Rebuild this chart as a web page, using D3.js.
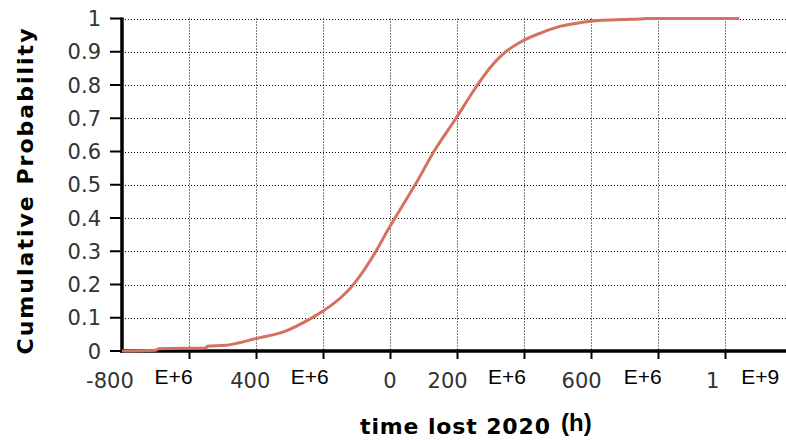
<!DOCTYPE html>
<html>
<head>
<meta charset="utf-8">
<script src="https://cdn.jsdelivr.net/npm/d3@7"></script>
<style>
    body { margin: 0; background: #fff; }
    svg { display: block; }
</style>
</head>
<body>
<div id="chart"></div>
<script>
// cumulative distribution
const timeLost = [-800, -700, -690, -550, -545, -490, -450, -406, -316, -236, -200, -137, -116, -57, -42, -3, 24, 48, 78, 131, 197, 251, 301, 337, 391, 451, 510, 570, 621, 700, 758, 764, 1042];
const cumProb  = [0, 0.002, 0.007, 0.009, 0.014, 0.017, 0.025, 0.036, 0.058, 0.098, 0.12, 0.17, 0.192, 0.275, 0.3, 0.37, 0.415, 0.455, 0.505, 0.6, 0.7, 0.785, 0.855, 0.893, 0.93, 0.957, 0.977, 0.988, 0.994, 0.997, 0.999, 1, 1];

const xTicks = [-600, -400, -200, 0, 200, 400, 600, 800, 1000];
const yTicks = [0, 0.1, 0.2, 0.3, 0.4, 0.5, 0.6, 0.7, 0.8, 0.9, 1];

// the x labels in the original are garbled, each sits at its own spot
const xNumLabels = [
    {text: "-800", at: -836},
    {text: "400", at: -417},
    {text: "0", at: 0},
    {text: "200", at: 172},
    {text: "600", at: 572},
    {text: "1", at: 963}
];
const xExpLabels = [
    {text: "E+6", at: -646},
    {text: "E+6", at: -240},
    {text: "E+6", at: 349},
    {text: "E+6", at: 754},
    {text: "E+9", at: 1105}
];

const W = 786, H = 441;
const margin = {top: 18.5, right: 0, bottom: 90, left: 122};

const svg = d3.select("#chart").append("svg")
    .attr("width", W)
    .attr("height", H);

const x = d3.scaleLinear()
    .domain([-800, 1182])
    .range([margin.left, W - margin.right]);

const y = d3.scaleLinear()
    .domain([0, 1])
    .range([H - margin.bottom, margin.top]);

const crisp = v => Math.round(v) + 0.5;

// grid
const grid = svg.append("g")
    .attr("stroke", "#000")
    .attr("stroke-width", 1)
    .attr("stroke-dasharray", "1,2");

grid.selectAll(".hgrid")
    .data(yTicks.filter(d => d > 0))
    .enter().append("line")
    .attr("class", "hgrid")
    .attr("x1", x(-800))
    .attr("x2", W)
    .attr("y1", d => crisp(y(d)))
    .attr("y2", d => crisp(y(d)));

grid.selectAll(".vgrid")
    .data(xTicks)
    .enter().append("line")
    .attr("class", "vgrid")
    .attr("x1", d => crisp(x(d)))
    .attr("x2", d => crisp(x(d)))
    .attr("y1", y(1))
    .attr("y2", y(0));

// axes
svg.append("line")
    .attr("x1", x(-800)).attr("x2", x(-800))
    .attr("y1", y(1) - 1).attr("y2", y(0) + 2)
    .attr("stroke", "#000").attr("stroke-width", 3.5);

svg.append("line")
    .attr("x1", x(-800)).attr("x2", W)
    .attr("y1", y(0)).attr("y2", y(0))
    .attr("stroke", "#000").attr("stroke-width", 3.5);

svg.selectAll(".ytick")
    .data(yTicks)
    .enter().append("line")
    .attr("class", "ytick")
    .attr("x1", x(-800) - 12)
    .attr("x2", x(-800))
    .attr("y1", d => y(d))
    .attr("y2", d => y(d))
    .attr("stroke", "#000").attr("stroke-width", 2);

svg.selectAll(".xtick")
    .data(xTicks)
    .enter().append("line")
    .attr("class", "xtick")
    .attr("x1", d => crisp(x(d)))
    .attr("x2", d => crisp(x(d)))
    .attr("y1", y(0))
    .attr("y2", y(0) + 8)
    .attr("stroke", "#000").attr("stroke-width", 2);

svg.selectAll(".ylabel")
    .data(yTicks)
    .enter().append("text")
    .attr("class", "ylabel")
    .attr("x", 101)
    .attr("y", d => y(d))
    .attr("dy", "0.36em")
    .attr("text-anchor", "end")
    .attr("font-family", "DejaVu Sans")
    .attr("font-size", 21)
    .attr("fill", "#333")
    .text(d => d3.format("")(d));

svg.selectAll(".xnum")
    .data(xNumLabels)
    .enter().append("text")
    .attr("class", "xnum")
    .attr("x", d => x(d.at))
    .attr("y", 388)
    .attr("text-anchor", "middle")
    .attr("font-family", "DejaVu Sans")
    .attr("font-size", 21)
    .attr("fill", "#333")
    .text(d => d.text);

svg.selectAll(".xexp")
    .data(xExpLabels)
    .enter().append("text")
    .attr("class", "xexp")
    .attr("x", d => x(d.at))
    .attr("y", 384)
    .attr("text-anchor", "middle")
    .attr("font-family", "Liberation Sans")
    .attr("font-size", 21)
    .attr("fill", "#000")
    .text(d => d.text);

// CDF curve
const line = d3.line()
    .x(d => x(d[0]))
    .y(d => y(d[1]))
    .curve(d3.curveMonotoneX);

svg.append("path")
    .datum(d3.zip(timeLost, cumProb))
    .attr("d", line)
    .attr("fill", "none")
    .attr("stroke", "#d6705f")
    .attr("stroke-width", 3);

// titles
svg.append("text")
    .attr("transform", "translate(33," + ((28 + 355) / 2) + ") rotate(-90)")
    .attr("text-anchor", "middle")
    .attr("font-family", "DejaVu Sans")
    .attr("font-weight", "bold")
    .attr("font-size", 22)
    .attr("textLength", 326)
    .attr("lengthAdjust", "spacing")
    .attr("fill", "#000")
    .text("Cumulative Probability");

svg.append("text")
    .attr("x", 360)
    .attr("y", 434)
    .attr("font-family", "DejaVu Sans")
    .attr("font-weight", "bold")
    .attr("font-size", 22)
    .attr("textLength", 190)
    .attr("lengthAdjust", "spacing")
    .attr("fill", "#000")
    .text("time lost 2020");

svg.append("text")
    .attr("x", 561)
    .attr("y", 431)
    .attr("font-family", "Liberation Sans")
    .attr("font-weight", "bold")
    .attr("font-size", 24)
    .attr("fill", "#000")
    .text("(h)");
</script>
</body>
</html>
